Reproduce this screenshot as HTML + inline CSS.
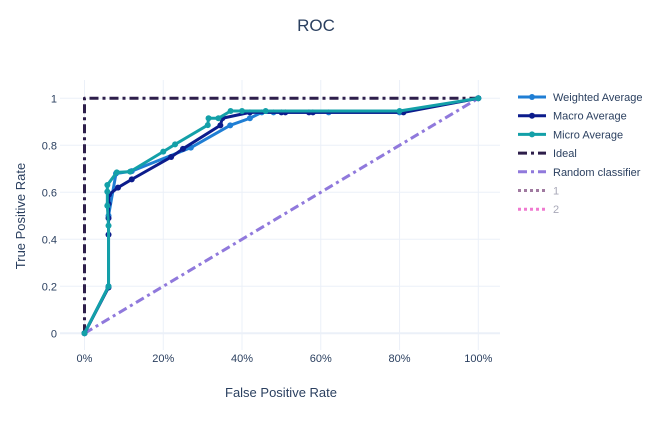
<!DOCTYPE html>
<html><head><meta charset="utf-8"><style>
body{margin:0;background:#fff;font-family:"Liberation Sans",sans-serif}
svg text{font-family:"Liberation Sans",sans-serif;fill:#2a3f5f}
</style></head><body>
<svg id="c" width="651" height="417">
<text x="316" y="31" font-size="17" text-anchor="middle">ROC</text>
<g id="grid"></g>
<g id="series"></g>
<g id="legend"></g>
<text x="281" y="397" font-size="13" text-anchor="middle">False Positive Rate</text>
<text x="25" y="216" font-size="13" text-anchor="middle" transform="rotate(-90 25 216)">True Positive Rate</text>
</svg>
<script>
const xTicks=[0,0.2,0.4,0.6,0.8,1];
const xTickLabels=["0%","20%","40%","60%","80%","100%"];
const yTicks=[0,0.2,0.4,0.6,0.8,1];
const yTickLabels=["0","0.2","0.4","0.6","0.8","1"];
const weightedX=[0,0.061,0.061,0.08,0.12,0.27,0.37,0.42,0.45,0.48,0.62,0.8,1];
const weightedY=[0,0.2,0.5,0.68,0.69,0.79,0.885,0.915,0.94,0.94,0.94,0.94,1];
const macroX=[0,0.061,0.061,0.061,0.061,0.062,0.085,0.12,0.22,0.25,0.345,0.35,0.42,0.5,0.51,0.57,0.58,0.81,1];
const macroY=[0,0.195,0.42,0.49,0.55,0.59,0.62,0.655,0.75,0.785,0.885,0.915,0.94,0.94,0.94,0.94,0.94,0.94,1];
const microX=[0,0.061,0.061,0.058,0.058,0.058,0.082,0.116,0.2,0.23,0.313,0.315,0.34,0.371,0.4,0.46,0.8,1];
const microY=[0,0.199,0.458,0.543,0.603,0.631,0.685,0.688,0.773,0.804,0.886,0.915,0.915,0.946,0.946,0.946,0.946,1];
const idealX=[0,0,1];const idealY=[0,1,1];
const randX=[0,1];const randY=[0,1];
const NS="http://www.w3.org/2000/svg";
const sx=v=>84.5+v*393.8, sy=v=>333.3-v*235;
function mk(t,a,p){const e=document.createElementNS(NS,t);for(const k in a)e.setAttribute(k,a[k]);p.appendChild(e);return e;}
const G=document.getElementById('grid'),S=document.getElementById('series'),L=document.getElementById('legend');
xTicks.forEach((t,i)=>{const l=mk('line',{x1:sx(t),x2:sx(t),y1:80,y2:350,stroke:'#ebf0f8','stroke-width':1},G);

const tx=mk('text',{x:sx(t),y:362,'font-size':11,'text-anchor':'middle'},G);tx.textContent=xTickLabels[i];
});
yTicks.forEach((t,i)=>{const l=mk('line',{x1:60,x2:500,y1:sy(t),y2:sy(t),stroke:'#ebf0f8','stroke-width':t===0?2:1},G);

const tx=mk('text',{x:57,y:sy(t)+4,'font-size':11,'text-anchor':'end'},G);tx.textContent=yTickLabels[i];
});
function line(xs,ys,col,dash,name,markers){const pts=xs.map((x,i)=>sx(x)+','+sy(ys[i])).join(' ');
const p=mk('polyline',{points:pts,fill:'none',stroke:col,'stroke-width':3,'stroke-dasharray':dash||'','stroke-linejoin':'round'},S);

if(markers)xs.forEach((x,i)=>{const c=mk('circle',{cx:sx(x),cy:sy(ys[i]),r:3,fill:col},S);
});}
line(idealX,idealY,'#2d1e4a','9,4,3,4','ideal-line');
line(randX,randY,'#9079dc','9,4,3,4','random-classifier-line');
line(weightedX,weightedY,'#1f7ed4','','weighted-average-line',true);
line(macroX,macroY,'#0c1c8c','','macro-average-line',true);
line(microX,microY,'#13a0a8','','micro-average-line',true);
const leg=[["Weighted Average",'#1f7ed4','',1],["Macro Average",'#0c1c8c','',1],["Micro Average",'#13a0a8','',1],["Ideal",'#2d1e4a','9,4,3,4',0],["Random classifier",'#9079dc','9,4,3,4',0],["1",'#a07aa0','3,3',0],["2",'#f07ad0','3,3',0]];
leg.forEach((e,i)=>{const y=97+i*18.7;const g=mk('g',{},L);

mk('line',{x1:518,x2:546,y1:y,y2:y,stroke:e[1],'stroke-width':3,'stroke-dasharray':e[2]},g);
if(e[3])mk('circle',{cx:532,cy:y,r:3,fill:e[1]},g);
const t=mk('text',{x:553,y:y+4,'font-size':11},g);t.textContent=e[0];if(i>4)t.setAttribute('style','fill:#a8a8b8');});
</script>
</body></html>
